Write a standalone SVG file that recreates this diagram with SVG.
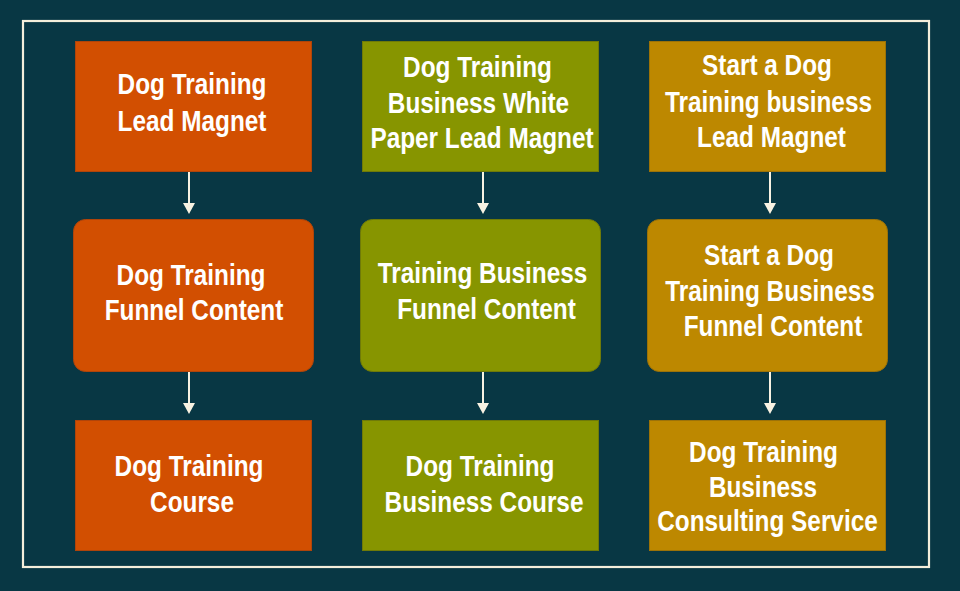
<svg xmlns="http://www.w3.org/2000/svg" width="960" height="591" viewBox="0 0 960 591">
<defs>
<style>
.bg{fill:#083744}
.frame{fill:none;stroke:#f4eedb;stroke-width:2.2}
.or{fill:#d24f01;stroke:#b0440a;stroke-width:1}
.ol{fill:#879500;stroke:#6f7a08;stroke-width:1}
.go{fill:#bd8800;stroke:#9c7208;stroke-width:1}
.t{font-family:"Liberation Sans",Arial,sans-serif;font-weight:bold;font-size:29px;fill:#ffffff;text-anchor:middle}
.c{stroke:#f8f2e2;stroke-width:2;fill:none}
</style>
<marker id="ah" markerWidth="12" markerHeight="11" refX="6" refY="11" orient="auto-start-reverse" markerUnits="userSpaceOnUse" viewBox="0 0 12 11">
<path d="M0,0 L12,0 L6,11 Z" fill="#f8f2e2"/>
</marker>
</defs>
<rect class="bg" x="0" y="0" width="960" height="591"/>
<rect class="frame" x="23" y="21" width="906" height="546"/>

<g id="connectors">
<line class="c" x1="189" y1="172" x2="189" y2="203"/>
<path d="M183,203 L195,203 L189,214 Z" fill="#f8f2e2"/>
<line class="c" x1="189" y1="372" x2="189" y2="403"/>
<path d="M183,403 L195,403 L189,414 Z" fill="#f8f2e2"/>
<line class="c" x1="483" y1="172" x2="483" y2="203"/>
<path d="M477,203 L489,203 L483,214 Z" fill="#f8f2e2"/>
<line class="c" x1="483" y1="372" x2="483" y2="403"/>
<path d="M477,403 L489,403 L483,414 Z" fill="#f8f2e2"/>
<line class="c" x1="770" y1="172" x2="770" y2="203"/>
<path d="M764,203 L776,203 L770,214 Z" fill="#f8f2e2"/>
<line class="c" x1="770" y1="372" x2="770" y2="403"/>
<path d="M764,403 L776,403 L770,414 Z" fill="#f8f2e2"/>
</g>

<g id="n1">
<rect class="or" x="75.5" y="41.5" width="236" height="130"/>
<text class="t" transform="matrix(0.84 0 0 1 192 94)">Dog Training</text>
<text class="t" transform="matrix(0.84 0 0 1 192 131)">Lead Magnet</text>
</g>
<g id="n2">
<rect class="or" x="73.5" y="219.5" width="240" height="152" rx="12"/>
<text class="t" transform="matrix(0.84 0 0 1 191 285)">Dog Training</text>
<text class="t" transform="matrix(0.84 0 0 1 194 320)">Funnel Content</text>
</g>
<g id="n3">
<rect class="or" x="75.5" y="420.5" width="236" height="130"/>
<text class="t" transform="matrix(0.84 0 0 1 189 476)">Dog Training</text>
<text class="t" transform="matrix(0.84 0 0 1 192 512)">Course</text>
</g>

<g id="n4">
<rect class="ol" x="362.5" y="41.5" width="236" height="130"/>
<text class="t" transform="matrix(0.84 0 0 1 477.5 77)">Dog Training</text>
<text class="t" transform="matrix(0.84 0 0 1 478.5 113)">Business White</text>
<text class="t" transform="matrix(0.84 0 0 1 482 148)">Paper Lead Magnet</text>
</g>
<g id="n5">
<rect class="ol" x="360.5" y="219.5" width="240" height="152" rx="12"/>
<text class="t" transform="matrix(0.84 0 0 1 482.5 283)">Training Business</text>
<text class="t" transform="matrix(0.84 0 0 1 486.5 319)">Funnel Content</text>
</g>
<g id="n6">
<rect class="ol" x="362.5" y="420.5" width="236" height="130"/>
<text class="t" transform="matrix(0.84 0 0 1 480 476)">Dog Training</text>
<text class="t" transform="matrix(0.84 0 0 1 484 512)">Business Course</text>
</g>

<g id="n7">
<rect class="go" x="649.5" y="41.5" width="236" height="130"/>
<text class="t" transform="matrix(0.84 0 0 1 767 75)">Start a Dog</text>
<text class="t" transform="matrix(0.84 0 0 1 768.5 112)">Training business</text>
<text class="t" transform="matrix(0.84 0 0 1 771.5 147)">Lead Magnet</text>
</g>
<g id="n8">
<rect class="go" x="647.5" y="219.5" width="240" height="152" rx="12"/>
<text class="t" transform="matrix(0.84 0 0 1 769 265)">Start a Dog</text>
<text class="t" transform="matrix(0.84 0 0 1 770 301)">Training Business</text>
<text class="t" transform="matrix(0.84 0 0 1 773 336)">Funnel Content</text>
</g>
<g id="n9">
<rect class="go" x="649.5" y="420.5" width="236" height="130"/>
<text class="t" transform="matrix(0.84 0 0 1 763.5 462)">Dog Training</text>
<text class="t" transform="matrix(0.84 0 0 1 763 497)">Business</text>
<text class="t" transform="matrix(0.84 0 0 1 767.5 531)">Consulting Service</text>
</g>
</svg>
